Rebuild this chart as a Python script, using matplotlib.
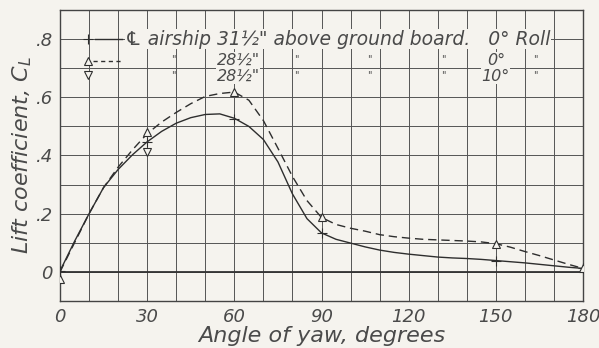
import matplotlib
matplotlib.use("Agg")
import matplotlib.pyplot as plt
import numpy as np

# measured points (angle of yaw, deg)
yaw_pts = [0, 30, 60, 90, 150, 180]
cl_315_roll0 = [0.003, 0.447, 0.527, 0.134, 0.039, 0.012]
cl_285_roll0 = [-0.025, 0.482, 0.618, 0.187, 0.096, 0.012]
yaw_roll10 = [30]
cl_285_roll10 = [0.413]

# faired curves every 5 deg
yaw_fair = list(range(0, 181, 5))
fair_315 = [0.003, 0.105, 0.20, 0.29, 0.352, 0.403, 0.447, 0.483, 0.511, 0.53,
            0.541, 0.543, 0.528, 0.50, 0.455, 0.378, 0.268, 0.183, 0.134, 0.112,
            0.099, 0.086, 0.075, 0.067, 0.061, 0.056, 0.051, 0.048, 0.046, 0.043,
            0.039, 0.035, 0.031, 0.026, 0.021, 0.016, 0.012]
fair_285 = [0.0, 0.10, 0.20, 0.29, 0.36, 0.42, 0.475, 0.515, 0.548, 0.578,
            0.603, 0.613, 0.618, 0.59, 0.52, 0.425, 0.328, 0.245, 0.187, 0.163,
            0.150, 0.14, 0.128, 0.121, 0.116, 0.112, 0.11, 0.108, 0.106, 0.103,
            0.097, 0.085, 0.07, 0.056, 0.041, 0.026, 0.012]

xticks = [0, 30, 60, 90, 120, 150, 180]
yticks = [0, 0.2, 0.4, 0.6, 0.8]
ytick_labels = ["0", ".2", ".4", ".6", ".8"]

ink = "#4a4a4a"
line = "#2e2e2e"
paper = "#f5f3ee"
fnt = dict(family="DejaVu Sans", style="oblique", color=ink)

fig = plt.figure(figsize=(5.99, 3.48), dpi=100, facecolor=paper)
ax = fig.add_axes([60 / 599, 1 - 301 / 348, 523 / 599, 291 / 348])
ax.set_facecolor(paper)

ax.set_xlim(0, 180)
ax.set_ylim(-0.1, 0.9)
ax.set_xticks(np.arange(0, 181, 10), minor=True)
ax.set_yticks(np.arange(-0.1, 0.91, 0.1), minor=True)
ax.set_xticks(xticks)
ax.set_xticklabels([str(t) for t in xticks], fontsize=13, **fnt)
ax.set_yticks(yticks)
ax.set_yticklabels(ytick_labels, fontsize=13, **fnt)
ax.tick_params(which="both", length=0, pad=5)
ax.grid(which="both", color="#555555", lw=0.7)
ax.axhline(0, color="#333333", lw=1.3, zorder=2)
for s in ax.spines.values():
    s.set_color("#444444")
    s.set_linewidth(1.0)

ax.plot(yaw_fair, fair_315, color=line, lw=1.0, zorder=3)
ax.plot(yaw_fair, fair_285, color=line, lw=1.0, dashes=(6, 3.5), zorder=3)
ax.plot(yaw_pts, cl_315_roll0, ls="none", marker="+", ms=7, mew=0.8,
        color=line, zorder=4)
ax.plot(yaw_pts, cl_285_roll0, ls="none", marker="^", ms=5.5, mew=0.8,
        mfc=paper, mec=line, zorder=4)
ax.plot(yaw_roll10, cl_285_roll10, ls="none", marker="v", ms=5.5, mew=0.8,
        mfc=paper, mec=line, zorder=4)

ax.set_xlabel("Angle of yaw, degrees", fontsize=16, labelpad=0, **fnt)
ax.set_ylabel("Lift coefficient, $C_L$", fontsize=16, labelpad=1, **fnt)

# key written inside the grid
box = dict(facecolor=paper, edgecolor="none", pad=0.3)
ax.plot([9.6], [0.8], marker="+", ms=7, mew=0.8, color=line, zorder=5)
ax.plot([12, 21.3], [0.8, 0.8], color=line, lw=1.0, zorder=5)
ax.plot([9.6], [0.726], marker="^", ms=5.5, mew=0.8, mfc=paper,
        mec=line, zorder=5)
ax.plot([11.5, 21.5], [0.726, 0.726], color=line, lw=1.0,
        dashes=(3, 2.5), zorder=5)
ax.plot([9.6], [0.676], marker="v", ms=5.5, mew=0.8, mfc=paper,
        mec=line, zorder=5)

ax.text(22.5, 0.8, "\u2104 airship 31\u00bd\" above ground board.   0\u00b0 Roll",
        fontsize=13.5, va="center", ha="left", bbox=box, zorder=4, **fnt)
for yy, roll in [(0.728, "0\u00b0"), (0.672, "10\u00b0")]:
    for xx in [39, 81.5, 106.5, 132, 163.5]:
        ax.text(xx, yy + 0.005, "\"", fontsize=7, va="center", ha="center",
                zorder=4, **fnt)
    ax.text(61.3, yy, "28\u00bd\"", fontsize=11.5, va="center", ha="center",
            bbox=box, zorder=4, **fnt)
    ax.text(150, yy, roll, fontsize=11.5, va="center", ha="center",
            bbox=box, zorder=4, **fnt)

fig.savefig("out.png", dpi=100, facecolor=paper)
